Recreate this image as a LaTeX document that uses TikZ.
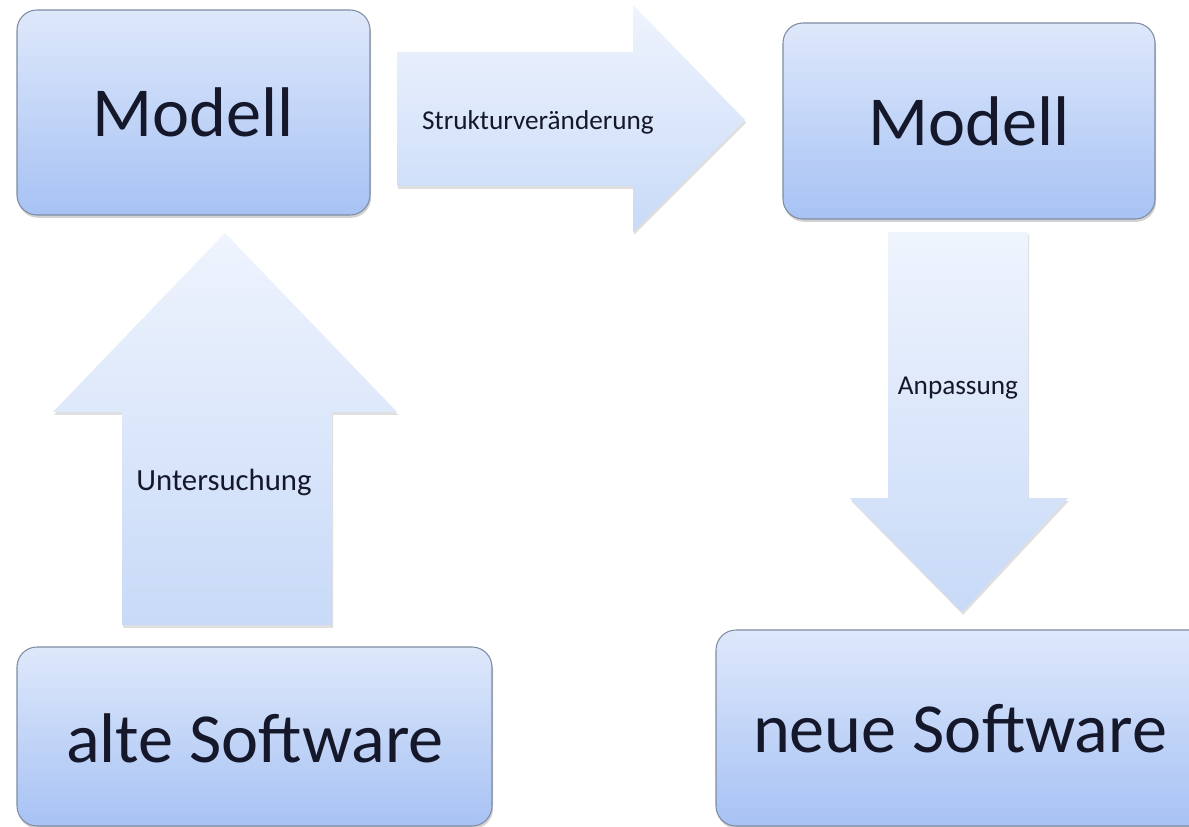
\documentclass[tikz,border=0pt]{standalone}
\usepackage{fontspec}
\setmainfont{Carlito}
\usetikzlibrary{shadows}
\definecolor{boxtop}{HTML}{DEE8FB}
\definecolor{boxbot}{HTML}{A7C2F4}
\definecolor{arrtop}{HTML}{EFF4FD}
\definecolor{arrbot}{HTML}{C8DAF8}
\definecolor{boxline}{HTML}{7F8CA2}
\definecolor{txt}{HTML}{15182A}
\tikzset{
  bigbox/.style={draw=boxline, line width=0.6pt, rounded corners=0.4cm,
    top color=boxtop, bottom color=boxbot, text=txt,
    font=\fontsize{40}{46}\selectfont,
    drop shadow={opacity=0.35, shadow xshift=0.6pt, shadow yshift=-1.6pt}},
  bigarrow/.style={top color=arrtop, bottom color=arrbot,
    drop shadow={opacity=0.25, shadow xshift=0.6pt, shadow yshift=-1.6pt}},
  arrlabel/.style={text=txt, inner sep=0pt}
}
\begin{document}
\begin{tikzpicture}[x=0.02cm, y=-0.02cm]
\useasboundingbox (0,0) rectangle (1189,827);
\fill[white] (0,0) rectangle (1189,827);

% boxes
\node[bigbox, minimum width=353*0.02cm, minimum height=205*0.02cm] (m1) at (193.5,112.5) {Modell};
\node[bigbox, minimum width=372*0.02cm, minimum height=196*0.02cm] (m2) at (969,121) {Modell};
\node[bigbox, minimum width=475*0.02cm, minimum height=179*0.02cm] (alt) at (254.5,736.5) {};
\node[text=txt, font=\fontsize{40}{46}\selectfont] (altt) at (255,738) {alte Software};
\node[bigbox, minimum width=540*0.02cm, minimum height=196*0.02cm] (neu) at (986,728) {};
\node[text=txt, font=\fontsize{40}{46}\selectfont] (neut) at (960,729) {neue Software};

% arrow: Untersuchung (up)
\path[bigarrow] (122,625) -- (122,412) -- (53,412) -- (225,233) -- (397,412) -- (332,412) -- (332,625) -- cycle;
\node[arrlabel, font=\fontsize{17.5}{20}\selectfont] (lu) at (224,482) {Untersuchung};

% arrow: Strukturveränderung (right)
\path[bigarrow] (397,52) -- (633,52) -- (633,5) -- (745,120) -- (633,232) -- (633,186) -- (397,186) -- cycle;
\node[arrlabel, font=\fontsize{15.5}{18}\selectfont] (ls) at (538,122) {Strukturveränderung};

% arrow: Anpassung (down)
\path[bigarrow] (888,232) -- (1028,232) -- (1028,498) -- (1068,498) -- (962,612) -- (850,498) -- (888,498) -- cycle;
\node[arrlabel, font=\fontsize{15.5}{18}\selectfont] (la) at (958,388) {Anpassung};
\end{tikzpicture}
\end{document}
